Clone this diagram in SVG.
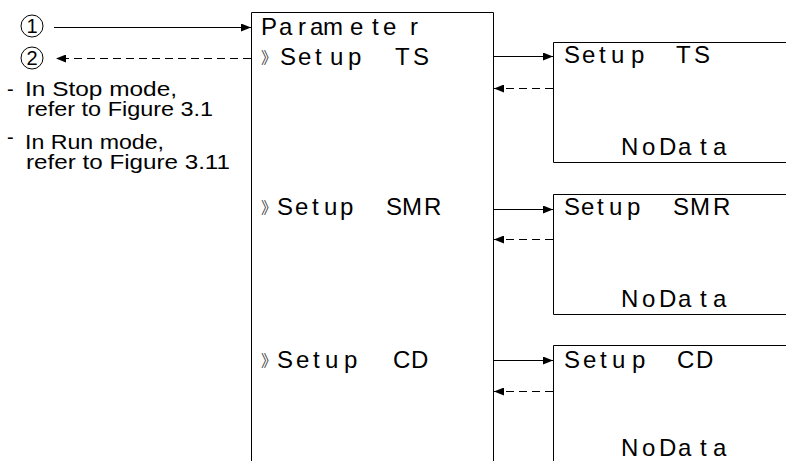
<svg xmlns="http://www.w3.org/2000/svg" width="786" height="461" viewBox="0 0 786 461">
<defs>
<marker id="ah" viewBox="0 0 10 8" refX="10" refY="4" markerWidth="10" markerHeight="8" markerUnits="userSpaceOnUse" orient="auto">
<path d="M0,0 L10,4 L0,8 Z" fill="#000"/>
</marker>
</defs>
<style>
.box{fill:none;stroke:#000;stroke-width:1}
.ln{fill:none;stroke:#000;stroke-width:1}
.ds{fill:none;stroke:#000;stroke-width:1;stroke-dasharray:8 5}
.lcd{font-family:"Liberation Sans",Arial,sans-serif;font-size:24px;fill:#000}
.mk{font-family:"Noto Sans CJK JP","Liberation Sans",sans-serif;font-size:16px;fill:#444}
.note{font-family:"Liberation Sans",Arial,sans-serif;font-size:20px;fill:#000}
.num{font-family:"Liberation Sans",Arial,sans-serif;font-size:20px;fill:#000}
</style>
<rect width="786" height="461" fill="#fff"/>

<g id="conn">
<line class="ln" x1="54" y1="27.5" x2="251" y2="27.5" marker-end="url(#ah)"/>
<line class="ds" x1="251" y1="58.5" x2="56" y2="58.5" marker-end="url(#ah)"/>
<line class="ln" x1="493" y1="56.5" x2="553" y2="56.5" marker-end="url(#ah)"/>
<line class="ds" x1="553" y1="88.5" x2="494" y2="88.5" marker-end="url(#ah)"/>
<line class="ln" x1="493" y1="209.5" x2="553" y2="209.5" marker-end="url(#ah)"/>
<line class="ds" x1="553" y1="239.5" x2="494" y2="239.5" marker-end="url(#ah)"/>
<line class="ln" x1="493" y1="360.5" x2="553" y2="360.5" marker-end="url(#ah)"/>
<line class="ds" x1="553" y1="391.5" x2="494" y2="391.5" marker-end="url(#ah)"/>
</g>

<g id="marker1">
<circle cx="32" cy="26" r="11" fill="none" stroke="#000" stroke-width="1"/>
<text class="num" x="32" y="33" text-anchor="middle">1</text>
</g>
<g id="marker2">
<circle cx="32" cy="58" r="11" fill="none" stroke="#000" stroke-width="1"/>
<text class="num" x="32" y="65" text-anchor="middle">2</text>
</g>

<g id="notes">
<text class="note" x="7" y="96">-</text>
<text class="note" x="25" y="96" textLength="152" lengthAdjust="spacingAndGlyphs">In Stop mode,</text>
<text class="note" x="27" y="116" textLength="186" lengthAdjust="spacingAndGlyphs">refer to Figure 3.1</text>
<text class="note" x="7" y="144">-</text>
<text class="note" x="25" y="149" textLength="139" lengthAdjust="spacingAndGlyphs">In Run mode,</text>
<text class="note" x="26" y="169" textLength="204" lengthAdjust="spacingAndGlyphs">refer to Figure 3.11</text>
</g>

<g id="parameter">
<path class="box" d="M251.5,461 V12.5 H493.5 V461"/>
<text class="lcd" x="261 279 298 310 323 350 372 383 410" y="35">Parameter</text>
<text class="mk" x="261" y="63">》</text>
<text class="lcd" x="280 298 315 330 348 372 395 413" y="65">Setup TS</text>
<text class="mk" x="261" y="213">》</text>
<text class="lcd" x="277 295 312 324 340 365 386 402 424" y="215">Setup SMR</text>
<text class="mk" x="261" y="366">》</text>
<text class="lcd" x="277 296 313 325 344 370 393 411" y="368">Setup CD</text>
</g>

<g id="setupTS">
<path class="box" d="M786,42.5 H553.5 V162.5 H786"/>
<text class="lcd" x="564 582 599 611 631 655 676 694" y="63">Setup TS</text>
<text class="lcd" x="621 642 659 678 700 713" y="155">NoData</text>
</g>

<g id="setupSMR">
<path class="box" d="M786,194.5 H553.5 V314.5 H786"/>
<text class="lcd" x="564 581 597 609 627 650 673 690 713" y="215">Setup SMR</text>
<text class="lcd" x="621 642 659 678 700 713" y="307">NoData</text>
</g>

<g id="setupCD">
<path class="box" d="M786,345.5 H553.5 V461"/>
<text class="lcd" x="564 583 600 612 632 655 677 696" y="368">Setup CD</text>
<text class="lcd" x="621 642 659 678 700 713" y="456">NoData</text>
</g>
</svg>
